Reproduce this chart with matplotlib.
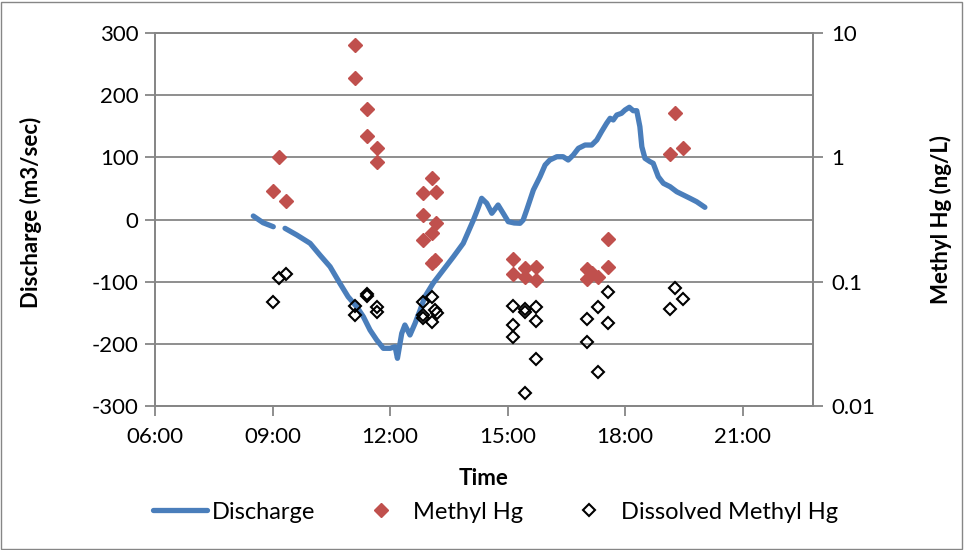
import numpy as np
import matplotlib
matplotlib.use("Agg")
import matplotlib.pyplot as plt
from matplotlib.ticker import FuncFormatter, FixedLocator, NullLocator
from matplotlib.patches import Rectangle

plt.rcParams["font.family"] = ["Lato", "DejaVu Sans"]
plt.rcParams["axes.unicode_minus"] = False

# discharge (m3/sec), time in decimal hours, nan = gap in record
discharge_t = [8.51, 8.76, 9.02, np.nan, 9.32, 9.62, 9.96, 10.21, 10.47, 10.72, 10.93, 11.15,
               11.32, 11.49, 11.66, 11.83, 12.00, 12.13, 12.19, 12.30, 12.38, 12.51, 12.64, 12.77,
               12.89, 13.10, 13.36, 13.62, 13.87, 14.13, 14.25, 14.34, 14.47, 14.60, 14.76, 14.89,
               15.02, 15.17, 15.32, 15.40, 15.49, 15.66, 15.83, 15.96, 16.08, 16.26, 16.42, 16.55,
               16.68, 16.81, 16.98, 17.15, 17.28, 17.40, 17.53, 17.62, 17.70, 17.79, 17.91, 18.00,
               18.11, 18.21, 18.30, 18.38, 18.43, 18.51, 18.64, 18.72, 18.85, 18.98, 19.15, 19.32,
               19.49, 19.66, 19.83, 20.04]
discharge = [5.6, -5.2, -11.6, np.nan, -14.2, -24.9, -38.3, -57.1, -75.9, -102.6, -124.2, -140.3,
             -156.4, -177.8, -193.8, -207.2, -207.2, -204.6, -223.3, -183.1, -169.7, -185.8, -167.0, -145.6,
             -124.2, -102.6, -81.2, -59.8, -38.3, -0.8, 18.5, 34.1, 26.1, 10.0, 23.3, 10.0,
             -3.5, -5.6, -6.1, -0.8, 15.3, 47.4, 68.8, 87.7, 95.7, 101.0, 101.0, 95.7,
             103.8, 114.5, 119.8, 119.8, 127.9, 141.2, 154.7, 162.8, 160.1, 168.1, 170.8, 176.1,
             180.5, 175.0, 175.0, 149.3, 117.1, 98.4, 93.0, 90.4, 68.8, 58.2, 52.8, 44.7,
             39.4, 34.1, 28.6, 19.6]

# methyl Hg (ng/L)
mehg_t = [9.00, 9.17, 9.34,
          11.11, 11.11, 11.40, 11.40, 11.66, 11.66,
          13.06, 12.83, 13.17, 12.84, 13.17, 13.06, 12.85, 13.15, 13.06,
          15.13, 15.13, 15.45, 15.45, 15.74, 15.74,
          17.04, 17.04, 17.15, 17.32, 17.57, 17.57,
          19.15, 19.28, 19.49]
mehg = [0.54, 1.00, 0.445,
        8.0, 4.32, 2.43, 1.48, 1.18, 0.91,
        0.68, 0.52, 0.53, 0.344, 0.298, 0.248, 0.216, 0.149, 0.141,
        0.151, 0.115, 0.128, 0.110, 0.132, 0.103,
        0.126, 0.1045, 0.118, 0.110, 0.219, 0.132,
        1.06, 2.26, 1.18]

# dissolved methyl Hg (ng/L)
dmehg_t = [9.00, 9.17, 9.34,
           11.11, 11.11, 11.40, 11.40, 11.66, 11.66,
           12.84, 13.06, 12.84, 13.15, 13.19, 13.06, 12.84,
           15.13, 15.13, 15.13, 15.45, 15.45, 15.74, 15.74, 15.74, 15.45,
           17.04, 17.04, 17.32, 17.32, 17.57, 17.57,
           19.15, 19.28, 19.49]
dmehg = [0.069, 0.108, 0.115,
         0.064, 0.054, 0.080, 0.077, 0.063, 0.0565,
         0.0686, 0.0753, 0.054, 0.0592, 0.0563, 0.0476, 0.051,
         0.0637, 0.0448, 0.0362, 0.060, 0.0573, 0.0629, 0.0485, 0.0239, 0.01265,
         0.0498, 0.0329, 0.0622, 0.0189, 0.083, 0.0463,
         0.060, 0.0885, 0.0726]

x_ticks = [6, 9, 12, 15, 18, 21]
left_ticks = [-300, -200, -100, 0, 100, 200, 300]
right_ticks = [0.01, 0.1, 1, 10]
right_labels = ["0.01", "0.1", "1", "10"]

grey = "#868686"
fs = 16

fig = plt.figure(figsize=(9.64, 5.5), dpi=100)
fig.patches.append(Rectangle((0.001, 0.002), 0.997, 0.995, transform=fig.transFigure,
                             fill=False, edgecolor=grey, lw=1.0))
ax = fig.add_axes([155 / 964, 1 - 406 / 550, 658 / 964, 373 / 550])
ax2 = ax.twinx()

ax.plot(discharge_t, discharge, color="#4A7EBB", lw=3.8, solid_capstyle="round",
        solid_joinstyle="round", label="Discharge", zorder=3)
ax.set_xlim(6, 22.8)
ax.set_ylim(-300, 300)
ax.set_yticks(left_ticks)
ax.set_xticks(x_ticks)
ax.xaxis.set_major_formatter(FuncFormatter(lambda v, p: "%02d:00" % int(round(v))))
ax.grid(axis="y", color=grey, lw=1.3)
ax.set_axisbelow(True)

ax2.plot(mehg_t, mehg, ls="none", marker="D", ms=7.6, color="#C0504D", mec="#C0504D",
         label="Methyl Hg", zorder=4)
ax2.plot(dmehg_t, dmehg, ls="none", marker="D", ms=6.6, mfc="none", mec="black", mew=1.5,
         label="Dissolved Methyl Hg", zorder=5)
ax2.set_yscale("log")
ax2.set_ylim(0.01, 10)
ax2.yaxis.set_major_locator(FixedLocator(right_ticks))
ax2.yaxis.set_minor_locator(NullLocator())
ax2.set_yticklabels(right_labels)

for a in (ax, ax2):
    for s in a.spines.values():
        s.set_color(grey)
        s.set_linewidth(1.3)
    a.tick_params(colors=grey, labelcolor="black", labelsize=fs, width=1.3, length=7)
ax.tick_params(axis="y", pad=5)
ax.tick_params(axis="x", pad=8)
ax2.tick_params(axis="y", pad=6)

ax.set_ylabel("Discharge (m3/sec)", fontsize=fs, fontweight="bold")
ax.yaxis.set_label_coords(-0.172, 0.52)
ax2.set_ylabel("Methyl Hg (ng/L)", fontsize=fs, fontweight="bold")
ax2.yaxis.set_label_coords(1.178, 0.5)
ax.set_xlabel("Time", fontsize=fs, fontweight="bold")
ax.xaxis.set_label_coords(0.5, -0.165)

handles = ax.get_lines()[:1] + ax2.get_lines()
fig.legend(handles=handles, labels=[h.get_label() for h in handles], loc="center",
           bbox_to_anchor=(0.514, 0.069), ncol=3, frameon=False, fontsize=fs + 1,
           handlelength=2.3, handletextpad=0.2, columnspacing=1.65)

fig.savefig("out.png", dpi=100)
